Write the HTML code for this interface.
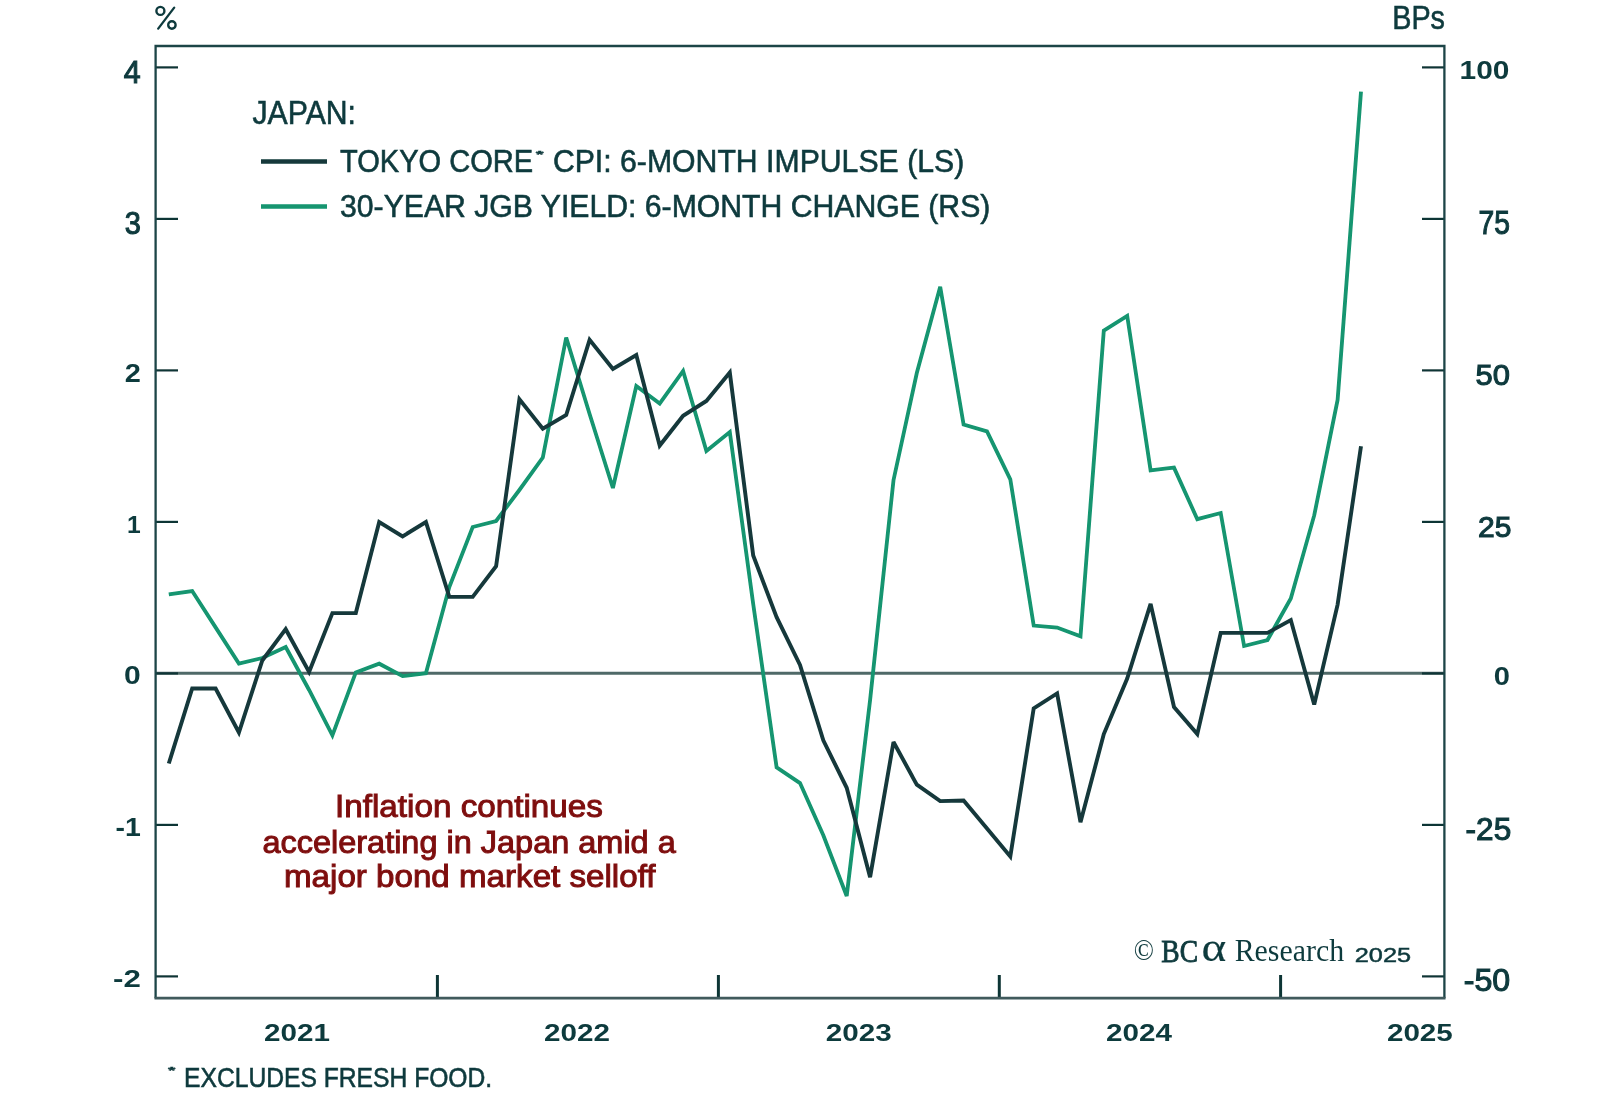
<!DOCTYPE html><html><head><meta charset="utf-8"><style>html,body{margin:0;padding:0;background:#fff;width:1600px;height:1106px;overflow:hidden}svg{display:block;will-change:transform}</style></head><body>
<svg width="1600" height="1106" viewBox="0 0 1600 1106">
<rect width="1600" height="1106" fill="#fff"/>
<defs><filter id="soft" x="0" y="0" width="1600" height="1106" filterUnits="userSpaceOnUse"><feGaussianBlur stdDeviation="0.45"/></filter></defs><g filter="url(#soft)">
<line x1="156" y1="673.3" x2="1444" y2="673.3" stroke="#506967" stroke-width="3"/>
<line x1="155" y1="976.4" x2="178" y2="976.4" stroke="#0f3436" stroke-width="2.2"/>
<line x1="1422" y1="976.4" x2="1445" y2="976.4" stroke="#0f3436" stroke-width="2.2"/>
<line x1="155" y1="824.9" x2="178" y2="824.9" stroke="#0f3436" stroke-width="2.2"/>
<line x1="1422" y1="824.9" x2="1445" y2="824.9" stroke="#0f3436" stroke-width="2.2"/>
<line x1="155" y1="673.4" x2="178" y2="673.4" stroke="#0f3436" stroke-width="2.2"/>
<line x1="1422" y1="673.4" x2="1445" y2="673.4" stroke="#0f3436" stroke-width="2.2"/>
<line x1="155" y1="521.9" x2="178" y2="521.9" stroke="#0f3436" stroke-width="2.2"/>
<line x1="1422" y1="521.9" x2="1445" y2="521.9" stroke="#0f3436" stroke-width="2.2"/>
<line x1="155" y1="370.4" x2="178" y2="370.4" stroke="#0f3436" stroke-width="2.2"/>
<line x1="1422" y1="370.4" x2="1445" y2="370.4" stroke="#0f3436" stroke-width="2.2"/>
<line x1="155" y1="218.9" x2="178" y2="218.9" stroke="#0f3436" stroke-width="2.2"/>
<line x1="1422" y1="218.9" x2="1445" y2="218.9" stroke="#0f3436" stroke-width="2.2"/>
<line x1="155" y1="67.4" x2="178" y2="67.4" stroke="#0f3436" stroke-width="2.2"/>
<line x1="1422" y1="67.4" x2="1445" y2="67.4" stroke="#0f3436" stroke-width="2.2"/>
<line x1="437.4" y1="975" x2="437.4" y2="998" stroke="#0f3436" stroke-width="3"/>
<line x1="718.4" y1="975" x2="718.4" y2="998" stroke="#0f3436" stroke-width="3"/>
<line x1="999.3" y1="975" x2="999.3" y2="998" stroke="#0f3436" stroke-width="3"/>
<line x1="1280.6" y1="975" x2="1280.6" y2="998" stroke="#0f3436" stroke-width="3"/>
<path d="M155.6 998.2 V46 H1444.4 V998.2" fill="none" stroke="#1d4447" stroke-width="2.3"/>
<line x1="154.5" y1="998.2" x2="1445.5" y2="998.2" stroke="#3f5a5c" stroke-width="2.8"/>
<polyline points="168.8,594.3 192.2,591.0 215.6,627.4 238.9,663.6 262.3,658.0 285.7,647.0 309.1,690.0 332.4,735.3 355.8,672.4 379.2,663.7 402.6,676.1 425.9,673.2 449.3,587.0 472.7,527.0 496.1,521.0 519.4,490.0 542.8,457.5 566.2,337.5 589.6,414.0 612.9,488.0 636.3,386.0 659.7,403.6 683.1,371.0 706.4,451.0 729.8,432.0 753.2,604.0 776.6,767.3 800.0,783.1 823.3,835.3 846.7,896.0 870.1,700.0 893.5,480.2 916.8,373.0 940.2,286.8 963.6,424.6 987.0,431.4 1010.3,479.3 1033.7,625.6 1057.1,627.5 1080.5,636.4 1103.8,330.7 1127.2,315.8 1150.6,470.4 1174.0,467.6 1197.3,519.2 1220.7,513.0 1244.1,646.0 1267.5,640.0 1290.8,598.5 1314.2,515.4 1337.6,400.0 1361.0,91.6" fill="none" stroke="#12956f" stroke-width="3.8" stroke-linejoin="miter" stroke-miterlimit="3"/>
<polyline points="168.8,763.5 192.2,688.5 215.6,688.5 238.9,732.5 262.3,660.5 285.7,629.2 309.1,672.0 332.4,613.1 355.8,613.0 379.2,522.0 402.6,536.4 425.9,522.0 449.3,596.9 472.7,596.9 496.1,566.3 519.4,399.3 542.8,428.6 566.2,415.0 589.6,339.8 612.9,369.0 636.3,355.1 659.7,445.6 683.1,415.8 706.4,400.9 729.8,372.5 753.2,555.5 776.6,617.1 800.0,665.0 823.3,740.4 846.7,787.8 870.1,877.2 893.5,742.0 916.8,784.7 940.2,801.1 963.6,800.5 987.0,828.5 1010.3,856.5 1033.7,708.3 1057.1,693.4 1080.5,822.2 1103.8,734.1 1127.2,678.5 1150.6,603.9 1174.0,707.0 1197.3,734.1 1220.7,632.9 1244.1,632.9 1267.5,632.9 1290.8,620.1 1314.2,704.6 1337.6,604.6 1361.0,446.2" fill="none" stroke="#13393b" stroke-width="3.9" stroke-linejoin="miter" stroke-miterlimit="3"/>
<line x1="261" y1="161.5" x2="327" y2="161.5" stroke="#13393b" stroke-width="4.5"/>
<line x1="261" y1="206.4" x2="327" y2="206.4" stroke="#12956f" stroke-width="4.5"/>
<g fill="none" stroke="#0f3a3d"><circle cx="160.4" cy="10.9" r="4.0" stroke-width="2.4"/><circle cx="171.9" cy="25.0" r="3.7" stroke-width="2.4"/><line x1="158.2" y1="28.6" x2="174.2" y2="7.6" stroke-width="2.3" stroke-linecap="round"/></g>
<text transform="translate(1392.30 29.00) scale(0.8787 1)" font-family='"Liberation Sans", sans-serif' font-weight="400" font-size="32.70" fill="#0f3a3d" stroke="#0f3a3d" stroke-width="0.6">BPs</text>
<text transform="translate(252.50 123.75) scale(0.9133 1)" font-family='"Liberation Sans", sans-serif' font-weight="400" font-size="33.07" fill="#0f3a3d" stroke="#0f3a3d" stroke-width="0.6">JAPAN:</text>
<text transform="translate(340.00 171.60) scale(0.9342 1)" font-family='"Liberation Sans", sans-serif' font-weight="400" font-size="31.10" fill="#0f3a3d" stroke="#0f3a3d" stroke-width="0.6">TOKYO CORE</text>
<text transform="translate(535.90 157.00) scale(2.3371 1)" font-family='"Liberation Sans", sans-serif' font-weight="700" font-size="8.14" fill="#0f3a3d" stroke="#0f3a3d" stroke-width="0.5">*</text>
<text transform="translate(552.90 171.60) scale(0.9718 1)" font-family='"Liberation Sans", sans-serif' font-weight="400" font-size="31.10" fill="#0f3a3d" stroke="#0f3a3d" stroke-width="0.6">CPI: 6-MONTH IMPULSE (LS)</text>
<text transform="translate(340.00 216.70) scale(0.9800 1)" font-family='"Liberation Sans", sans-serif' font-weight="400" font-size="30.81" fill="#0f3a3d" stroke="#0f3a3d" stroke-width="0.6">30-YEAR JGB YIELD: 6-MONTH CHANGE (RS)</text>
<text transform="translate(335.00 816.70) scale(1.0541 1)" font-family='"Liberation Sans", sans-serif' font-weight="400" font-size="31.54" fill="#7e0c0c" stroke="#7e0c0c" stroke-width="1.0">Inflation continues</text>
<text transform="translate(262.40 852.70) scale(1.0300 1)" font-family='"Liberation Sans", sans-serif' font-weight="400" font-size="31.54" fill="#7e0c0c" stroke="#7e0c0c" stroke-width="1.0">accelerating in Japan amid a</text>
<text transform="translate(284.00 886.70) scale(1.0512 1)" font-family='"Liberation Sans", sans-serif' font-weight="400" font-size="31.54" fill="#7e0c0c" stroke="#7e0c0c" stroke-width="1.0">major bond market selloff</text>
<text transform="translate(1133.80 960.11) scale(0.9248 1)" font-family='"Liberation Serif", serif' font-weight="400" font-size="28.74" fill="#0f3a3d">©</text>
<text transform="translate(1161.30 961.50) scale(0.8515 1)" font-family='"Liberation Serif", serif' font-weight="400" font-size="32.31" fill="#0f3a3d" stroke="#0f3a3d" stroke-width="0.9">BC</text>
<text transform="translate(1201.50 961.09) scale(1.1360 1)" font-family='"Liberation Serif", serif' font-weight="400" font-size="41.49" fill="#0f3a3d" stroke="#0f3a3d" stroke-width="0.2">α</text>
<text transform="translate(1234.70 961.40) scale(0.9520 1)" font-family='"Liberation Serif", serif' font-weight="400" font-size="31.38" fill="#0f3a3d">Research</text>
<text transform="translate(1354.80 961.60) scale(1.2435 1)" font-family='"Liberation Sans", sans-serif' font-weight="400" font-size="20.35" fill="#0f3a3d" stroke="#0f3a3d" stroke-width="0.5">2025</text>
<text transform="translate(264.00 1040.76) scale(1.2175 1)" font-family='"Liberation Sans", sans-serif' font-weight="700" font-size="24.36" fill="#0f3a3d">2021</text>
<text transform="translate(544.00 1040.76) scale(1.2175 1)" font-family='"Liberation Sans", sans-serif' font-weight="700" font-size="24.36" fill="#0f3a3d">2022</text>
<text transform="translate(825.80 1040.73) scale(1.2192 1)" font-family='"Liberation Sans", sans-serif' font-weight="700" font-size="24.33" fill="#0f3a3d">2023</text>
<text transform="translate(1106.00 1040.76) scale(1.2175 1)" font-family='"Liberation Sans", sans-serif' font-weight="700" font-size="24.36" fill="#0f3a3d">2024</text>
<text transform="translate(1386.90 1040.76) scale(1.2175 1)" font-family='"Liberation Sans", sans-serif' font-weight="700" font-size="24.36" fill="#0f3a3d">2025</text>
<text transform="translate(168.30 1073.10) scale(2.1720 1)" font-family='"Liberation Sans", sans-serif' font-weight="700" font-size="8.28" fill="#0f3a3d" stroke="#0f3a3d" stroke-width="0.5">*</text>
<text transform="translate(184.00 1086.70) scale(0.8834 1)" font-family='"Liberation Sans", sans-serif' font-weight="400" font-size="27.91" fill="#0f3a3d" stroke="#0f3a3d" stroke-width="0.6">EXCLUDES FRESH FOOD.</text>
<text transform="translate(123.75 82.50) scale(0.9521 1)" font-family='"Liberation Sans", sans-serif' font-weight="400" font-size="31.83" fill="#0f3a3d" stroke="#0f3a3d" stroke-width="1.1">4</text>
<text transform="translate(124.70 234.28) scale(0.8992 1)" font-family='"Liberation Sans", sans-serif' font-weight="400" font-size="32.20" fill="#0f3a3d" stroke="#0f3a3d" stroke-width="1.1">3</text>
<text transform="translate(124.70 381.70) scale(1.1167 1)" font-family='"Liberation Sans", sans-serif' font-weight="700" font-size="25.93" fill="#0f3a3d">2</text>
<text transform="translate(127.00 533.00) scale(0.9972 1)" font-family='"Liberation Sans", sans-serif' font-weight="700" font-size="24.71" fill="#0f3a3d">1</text>
<text transform="translate(124.00 684.14) scale(1.1557 1)" font-family='"Liberation Sans", sans-serif' font-weight="700" font-size="25.99" fill="#0f3a3d">0</text>
<text transform="translate(115.50 836.00) scale(1.0878 1)" font-family='"Liberation Sans", sans-serif' font-weight="700" font-size="26.16" fill="#0f3a3d">-1</text>
<text transform="translate(113.00 986.80) scale(1.2992 1)" font-family='"Liberation Sans", sans-serif' font-weight="700" font-size="24.07" fill="#0f3a3d">-2</text>
<text transform="translate(1459.50 78.74) scale(1.1638 1)" font-family='"Liberation Sans", sans-serif' font-weight="700" font-size="25.71" fill="#0f3a3d">100</text>
<text transform="translate(1478.50 233.87) scale(0.8645 1)" font-family='"Liberation Sans", sans-serif' font-weight="400" font-size="32.66" fill="#0f3a3d" stroke="#0f3a3d" stroke-width="1.1">75</text>
<text transform="translate(1475.60 385.30) scale(1.0331 1)" font-family='"Liberation Sans", sans-serif' font-weight="400" font-size="29.94" fill="#0f3a3d" stroke="#0f3a3d" stroke-width="1.1">50</text>
<text transform="translate(1478.00 536.70) scale(1.0078 1)" font-family='"Liberation Sans", sans-serif' font-weight="400" font-size="29.80" fill="#0f3a3d" stroke="#0f3a3d" stroke-width="1.1">25</text>
<text transform="translate(1493.80 685.05) scale(1.1524 1)" font-family='"Liberation Sans", sans-serif' font-weight="700" font-size="25.28" fill="#0f3a3d">0</text>
<text transform="translate(1465.60 839.98) scale(0.9799 1)" font-family='"Liberation Sans", sans-serif' font-weight="400" font-size="32.20" fill="#0f3a3d" stroke="#0f3a3d" stroke-width="1.1">-25</text>
<text transform="translate(1463.70 990.68) scale(1.0081 1)" font-family='"Liberation Sans", sans-serif' font-weight="400" font-size="31.92" fill="#0f3a3d" stroke="#0f3a3d" stroke-width="1.1">-50</text>
</g></svg></body></html>
